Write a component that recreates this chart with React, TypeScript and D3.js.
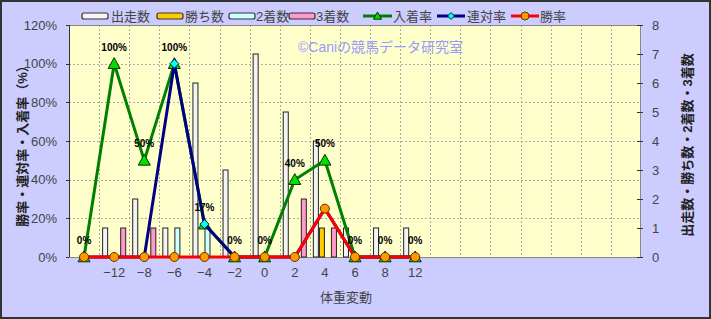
import React from "react";
import * as d3 from "d3";

const categories = ["", "-12", "-8", "-6", "-4", "-2", "0", "2", "4", "6", "8", "12", "", "", "", "", "", "", ""];
const runs = [0, 1, 2, 1, 6, 3, 7, 5, 4, 1, 1, 1];
const wins = [0, 0, 0, 0, 0, 0, 0, 0, 1, 0, 0, 0];
const seconds = [0, 0, 0, 1, 1, 0, 0, 0, 0, 0, 0, 0];
const thirds = [0, 1, 1, 0, 0, 0, 0, 2, 1, 0, 0, 0];
const placeRate = [0, 100, 50, 100, 17, 0, 0, 40, 50, 0, 0, 0];
const rentaiRate = [0, 0, 0, 100, 17, 0, 0, 0, 25, 0, 0, 0];
const winRate = [0, 0, 0, 0, 0, 0, 0, 0, 25, 0, 0, 0];
const leftTicks = [0, 20, 40, 60, 80, 100, 120];
const rightTicks = [0, 1, 2, 3, 4, 5, 6, 7, 8];

const W = 711;
const H = 319;
const L = 69, R = 641, T = 25, B = 257;
const FONT = "'Liberation Sans', 'Noto Sans CJK JP', sans-serif";
const TXT = "#444";

const barSeries = [
  { name: "出走数", values: runs, fill: "#f4f4f4" },
  { name: "勝ち数", values: wins, fill: "#FFCC00" },
  { name: "2着数", values: seconds, fill: "#CCFFFF" },
  { name: "3着数", values: thirds, fill: "#FF99CC" },
];

export default function App() {
  const x = d3.scaleBand<number>().domain(categories.map((_, i) => i)).range([L, R]).padding(0);
  const inner = d3.scaleBand<number>().domain([0, 1, 2, 3]).range([0, x.bandwidth()]).paddingInner(0).paddingOuter(0.5);
  const yL = d3.scaleLinear().domain([0, 120]).range([B, T]);
  const yR = d3.scaleLinear().domain([0, 8]).range([B, T]);
  const cx = (i: number) => (x(i) as number) + x.bandwidth() / 2;
  const line = (vals: number[]) =>
    d3.line<number>().x((_, i) => cx(i)).y((v) => yL(v))(vals) as string;

  const tri = (px: number, py: number, s = 6) =>
    `M${px},${py - s} L${px + s},${py + s * 0.8} L${px - s},${py + s * 0.8} Z`;
  const diamond = (px: number, py: number, s = 4.5) =>
    `M${px},${py - s} L${px + s},${py} L${px},${py + s} L${px - s},${py} Z`;

  return (
    <svg width={W} height={H} style={{ position: "fixed", left: 0, top: 0 }} fontFamily={FONT}>
      <rect x={0} y={0} width={W} height={H} fill="#CCCCFF" />
      <rect x={1} y={1} width={W - 2} height={H - 2} fill="none" stroke="#333" strokeWidth={2} />

      {/* legend */}
      <g fontSize={13} fill={TXT}>
        {[
          { x: 82, t: 111, fill: "#f4f4f4", name: "出走数" },
          { x: 157, t: 185, fill: "#FFCC00", name: "勝ち数" },
          { x: 229, t: 256, fill: "#CCFFFF", name: "2着数" },
          { x: 289, t: 316, fill: "#FF99CC", name: "3着数" },
        ].map((d) => (
          <g key={d.name}>
            <rect x={d.x} y={13} width={26} height={6} rx={2} fill={d.fill} stroke="#333" strokeWidth={1.2} />
            <text x={d.t} y={16} dominantBaseline="central">{d.name}</text>
          </g>
        ))}
        <line x1={363} x2={392} y1={16} y2={16} stroke="#008000" strokeWidth={3} />
        <path d={tri(377.5, 16, 4)} fill="#00E000" stroke="#003300" strokeWidth={1} />
        <text x={393} y={16} dominantBaseline="central">入着率</text>
        <line x1={437} x2={465} y1={16} y2={16} stroke="#000080" strokeWidth={3} />
        <path d={diamond(451, 16, 3.5)} fill="#00FFFF" stroke="#003333" strokeWidth={1} />
        <text x={467} y={16} dominantBaseline="central">連対率</text>
        <line x1={511} x2={539} y1={16} y2={16} stroke="#FF0000" strokeWidth={3} />
        <circle cx={525} cy={16} r={4} fill="#FF9900" stroke="#663300" strokeWidth={1} />
        <text x={540} y={16} dominantBaseline="central">勝率</text>
      </g>

      {/* plot area */}
      <rect x={L} y={T} width={R - L} height={B - T} fill="#FFFFCC" />
      <g stroke="#aaa" strokeWidth={1} strokeDasharray="2,2">
        {leftTicks.slice(1, -1).map((t) => (
          <line key={t} x1={L} x2={R} y1={Math.round(yL(t)) + 0.5} y2={Math.round(yL(t)) + 0.5} />
        ))}
        {categories.slice(1).map((_, i) => {
          const gx = Math.round(x(i + 1) as number) + 0.5;
          return <line key={i} x1={gx} x2={gx} y1={T} y2={B} />;
        })}
      </g>
      <rect x={L + 0.5} y={T + 0.5} width={R - L - 1} height={B - T} fill="none" stroke="#888" strokeWidth={1} />

      {/* watermark */}
      <text x={298} y={52} fontSize={14} fill="#9999FF">©Caniの競馬データ研究室</text>

      {/* bars */}
      {barSeries.map((s, si) => (
        <g key={s.name}>
          {s.values.map((v, i) =>
            v > 0 ? (
              <rect
                key={i}
                x={(x(i) as number) + (inner(si) as number) + 0.5}
                y={yR(v)}
                width={inner.bandwidth() - 1}
                height={B - yR(v)}
                fill={s.fill}
                stroke="#222"
                strokeWidth={1}
              />
            ) : null
          )}
        </g>
      ))}

      {/* axes ticks */}
      <g stroke="#333" strokeWidth={1}>
        <line x1={L + 0.5} x2={L + 0.5} y1={T} y2={B} />
        {leftTicks.map((t) => (
          <line key={t} x1={L - 3} x2={L} y1={Math.round(yL(t)) + 0.5} y2={Math.round(yL(t)) + 0.5} />
        ))}
        {rightTicks.map((t) => (
          <line key={t} x1={R - 4} x2={R + 2} y1={Math.round(yR(t)) + 0.5} y2={Math.round(yR(t)) + 0.5} />
        ))}
      </g>
      <g fontSize={13} fill={TXT}>
        {leftTicks.map((t) => (
          <text key={t} x={57} y={yL(t)} textAnchor="end" dominantBaseline="central">{t}%</text>
        ))}
        {rightTicks.map((t) => (
          <text key={t} x={652} y={yR(t)} dominantBaseline="central">{t}</text>
        ))}
        {categories.map((c, i) => (
          <text key={i} x={cx(i)} y={272} textAnchor="middle" dominantBaseline="central">{c.replace("-", "−")}</text>
        ))}
        <text x={346} y={297} textAnchor="middle" dominantBaseline="central">体重変動</text>
        <text
          transform={`translate(22,143) rotate(-90)`}
          textAnchor="middle"
          dominantBaseline="central"
          fontWeight="bold"
          fill="#222"
        >
          勝率・連対率・入着率（%）
        </text>
        <text
          transform={`translate(687,145) rotate(-90)`}
          textAnchor="middle"
          dominantBaseline="central"
          fontWeight="bold"
          fill="#222"
        >
          出走数・勝ち数・2着数・3着数
        </text>
      </g>

      {/* lines */}
      <path d={line(placeRate)} fill="none" stroke="#008000" strokeWidth={3} />
      {placeRate.map((v, i) => (
        <path key={i} d={tri(cx(i), yL(v))} fill="#00E000" stroke="#003300" strokeWidth={1} />
      ))}
      <path d={line(rentaiRate)} fill="none" stroke="#000080" strokeWidth={3} />
      {rentaiRate.map((v, i) => (
        <path key={i} d={diamond(cx(i), yL(v))} fill="#00FFFF" stroke="#003333" strokeWidth={1} />
      ))}
      <path d={line(winRate)} fill="none" stroke="#FF0000" strokeWidth={3} />
      {winRate.map((v, i) => (
        <circle key={i} cx={cx(i)} cy={yL(v)} r={4.5} fill="#FF9900" stroke="#663300" strokeWidth={1} />
      ))}

      {/* data labels */}
      <g fontSize={10} fontWeight="bold" fill="#000">
        {placeRate.map((v, i) => (
          <text key={i} x={cx(i)} y={yL(v) - 13} textAnchor="middle">{v}%</text>
        ))}
      </g>
    </svg>
  );
}
